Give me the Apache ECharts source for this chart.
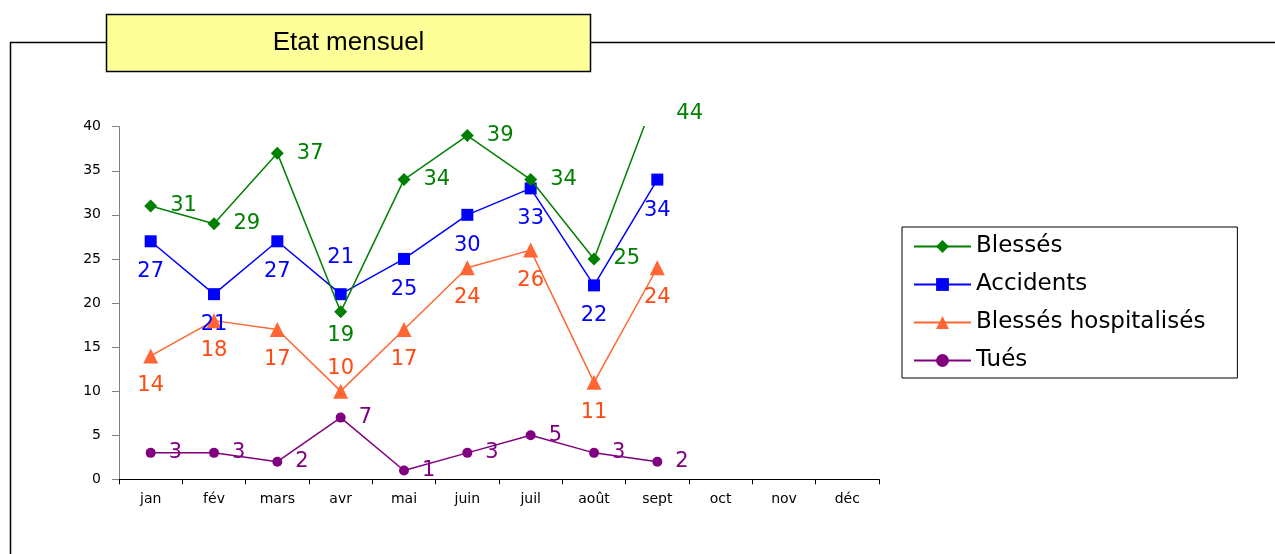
<!DOCTYPE html>
<html>
<head>
<meta charset="utf-8">
<script src="https://cdn.jsdelivr.net/npm/echarts@6/dist/echarts.min.js"></script>
<style>
html,body{margin:0;padding:0;background:#fff;}
#chart{width:1275px;height:554px;}
</style>
</head>
<body>
<div id="chart"></div>
<script>
const categories = ['jan','fév','mars','avr','mai','juin','juil','août','sept','oct','nov','déc'];
const blesses = [31,29,37,19,34,39,34,25,44];
const accidents = [27,21,27,21,25,30,33,22,34];
const hospitalises = [14,18,17,10,17,24,26,11,24];
const tues = [3,3,2,7,1,3,5,3,2];
const yTicks = [0,5,10,15,20,25,30,35,40];

const FONT = 'Liberation Sans, Arial, sans-serif';
const WIDE = 'DejaVu Sans, Verdana, sans-serif';
const yMax = 40;

function withLabelPos(values, special) {
  return values.map((v, i) => special[i] ? {value: v, label: special[i]} : v);
}

const chart = echarts.init(document.getElementById('chart'), null, {renderer: 'canvas'});

const labelBase = {show: true, fontSize: 21, fontFamily: WIDE};

const option = {
  animation: false,
  backgroundColor: '#ffffff',
  graphic: [
    {type: 'polyline', shape: {points: [[1275, 42.5], [10.5, 42.5], [10.5, 554]]},
     style: {stroke: '#000', lineWidth: 1.5, fill: null}, z: 1},
    {type: 'rect', shape: {x: 106.5, y: 14.5, width: 484, height: 57},
     style: {fill: '#FFFF99', stroke: '#000', lineWidth: 1.5}, z: 2},
    {type: 'text', x: 348.5, y: 42.5, z: 3,
     style: {text: 'Etat mensuel', fontSize: 26, fontFamily: FONT, fill: '#000',
             textAlign: 'center', textVerticalAlign: 'middle'}}
  ],
  grid: {left: 119, right: 396, top: 126.7, bottom: 74.7, containLabel: false},
  legend: {
    orient: 'vertical',
    left: 902, top: 227,
    data: ['Blessés','Accidents','Blessés hospitalisés','Tués'],
    itemWidth: 57, itemHeight: 16, itemGap: 15,
    padding: [8, 32, 6, 11],
    borderColor: '#000', borderWidth: 1,
    textStyle: {fontSize: 23, fontFamily: WIDE, color: '#000'},
    selectedMode: false
  },
  xAxis: {
    type: 'category',
    data: categories,
    boundaryGap: true,
    axisLine: {lineStyle: {color: '#000', width: 1}},
    axisTick: {show: true, length: 5, lineStyle: {color: '#000'}},
    axisLabel: {fontSize: 14, fontFamily: WIDE, color: '#000', margin: 13}
  },
  yAxis: {
    type: 'value',
    min: 0, max: yMax, interval: 5,
    axisLine: {show: true, lineStyle: {color: '#808080', width: 1}},
    axisTick: {show: true, length: 7, lineStyle: {color: '#808080'}},
    splitLine: {show: false},
    axisLabel: {fontSize: 14, fontFamily: WIDE, color: '#000', margin: 18,
                formatter: v => yTicks.includes(v) ? String(v) : ''}
  },
  series: [
    {
      name: 'Blessés', type: 'line', clip: true,
      data: withLabelPos(blesses, {3: {position: 'bottom', distance: 7}}),
      color: '#008000',
      symbol: 'diamond', symbolSize: 13,
      lineStyle: {width: 1.5, color: '#008000'},
      itemStyle: {color: '#008000'},
      label: Object.assign({}, labelBase, {position: 'right', distance: 13, color: '#008000'}),
      z: 5
    },
    {
      name: 'Accidents', type: 'line', clip: true,
      data: withLabelPos(accidents, {3: {position: 'top', distance: 20}}),
      color: '#0000FF',
      symbol: 'rect', symbolSize: 12,
      lineStyle: {width: 1.5, color: '#0000FF'},
      itemStyle: {color: '#0000FF'},
      label: Object.assign({}, labelBase, {position: 'bottom', distance: 14, color: '#0000FF'}),
      z: 4
    },
    {
      name: 'Blessés hospitalisés', type: 'line', clip: true,
      data: withLabelPos(hospitalises, {3: {position: 'top', distance: 5}}),
      color: '#FF6633',
      symbol: 'triangle', symbolSize: 15,
      lineStyle: {width: 1.5, color: '#FF6633'},
      itemStyle: {color: '#FF6633'},
      label: Object.assign({}, labelBase, {position: 'bottom', distance: 12, color: '#FF4A14'}),
      z: 3
    },
    {
      name: 'Tués', type: 'line', clip: true,
      data: tues,
      color: '#800080',
      symbol: 'circle', symbolSize: 10,
      lineStyle: {width: 1.5, color: '#800080'},
      itemStyle: {color: '#800080'},
      label: Object.assign({}, labelBase, {position: 'right', distance: 13, color: '#800080'}),
      z: 2
    },
    {
      // labels of values above the axis maximum (their markers are clipped)
      name: 'Blessés-hors-échelle', type: 'scatter', clip: false,
      data: blesses.map((v, i) => v > yMax ? [i, v] : null).filter(Boolean),
      symbolSize: 0,
      itemStyle: {color: '#008000', opacity: 1},
      label: Object.assign({}, labelBase, {position: 'right', distance: 19, offset: [0, 22], color: '#008000',
                                          formatter: p => String(p.value[1])}),
      emphasis: {disabled: true},
      silent: true,
      z: 6
    }
  ]
};
chart.setOption(option);
</script>
</body>
</html>
